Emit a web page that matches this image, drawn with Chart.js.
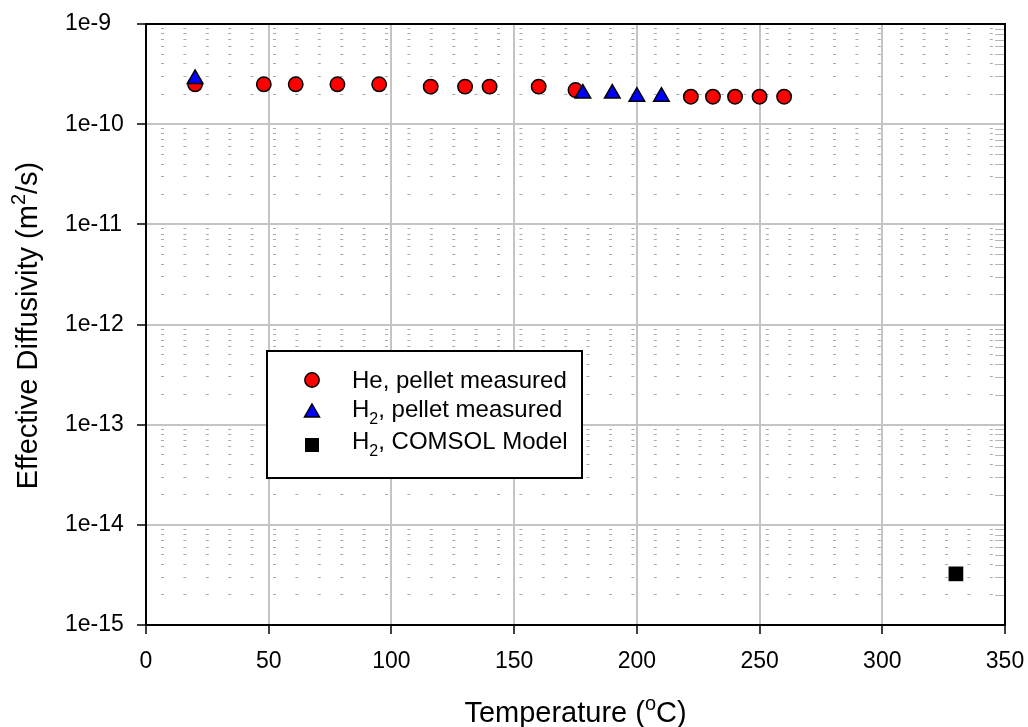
<!DOCTYPE html>
<html><head><meta charset="utf-8">
<script src="https://cdn.jsdelivr.net/npm/chart.js@4/dist/chart.umd.min.js"></script>
<style>html,body{margin:0;padding:0;background:#fff}canvas{display:block}</style>
</head><body>
<canvas id="c" width="1028" height="727"></canvas>
<script>
// ---- data ----
const heTemp = [20, 48, 61, 78, 95, 116, 130, 140, 160, 175, 222, 231, 240, 250, 260];
const heDiff = [2.5e-10, 2.5e-10, 2.5e-10, 2.5e-10, 2.5e-10, 2.37e-10, 2.37e-10, 2.37e-10, 2.37e-10, 2.19e-10, 1.88e-10, 1.88e-10, 1.88e-10, 1.88e-10, 1.88e-10];
const h2Temp = [20, 178, 190, 200, 210];
const h2Diff = [2.83e-10, 2.02e-10, 2.02e-10, 1.88e-10, 1.88e-10];
const comsolTemp = [330];
const comsolDiff = [3.24e-15];
const yDecades = [1e-15, 1e-14, 1e-13, 1e-12, 1e-11, 1e-10, 1e-9];
const yTickLabels = ['1e-15', '1e-14', '1e-13', '1e-12', '1e-11', '1e-10', '1e-9'];
const xTicks = [0, 50, 100, 150, 200, 250, 300, 350];
const minorMult = [2, 3, 4, 5, 6, 7, 8, 9];
const legendLabels = [
  [{t: 'He, pellet measured'}],
  [{t: 'H'}, {t: '2', sub: true}, {t: ', pellet measured'}],
  [{t: 'H'}, {t: '2', sub: true}, {t: ', COMSOL Model'}]
];

const FONT = "'Liberation Sans', Arial, sans-serif";
const minorValues = [];
yDecades.slice(0, -1).forEach(d => minorMult.forEach(m => minorValues.push(d * m)));

const toPts = (xs, ys) => xs.map((x, i) => ({x: x, y: ys[i]}));

function drawRich(ctx, parts, x, y, size, align) {
  const subSize = Math.round(size * 0.68);
  let w = 0;
  parts.forEach(p => {
    ctx.font = (p.sub || p.sup ? subSize : size) + 'px ' + FONT;
    p.w = ctx.measureText(p.t).width; w += p.w;
  });
  let cx = align === 'center' ? x - w / 2 : x;
  parts.forEach(p => {
    ctx.font = (p.sub || p.sup ? subSize : size) + 'px ' + FONT;
    const dy = p.sub ? size * 0.3 : (p.sup ? -size * 0.4 : 0);
    ctx.fillText(p.t, cx, y + dy);
    cx += p.w;
  });
}

const framePlugin = {
  id: 'frame',
  afterDraw(chart) {
    const {ctx, chartArea: a, scales} = chart;
    ctx.save();
    // right edge inward minor ticks
    ctx.strokeStyle = '#b8b8b8'; ctx.lineWidth = 1;
    minorValues.forEach(v => {
      const py = Math.round(scales.y.getPixelForValue(v)) + 0.5;
      ctx.beginPath(); ctx.moveTo(a.right - 10, py); ctx.lineTo(a.right, py); ctx.stroke();
    });
    // top and right border
    ctx.strokeStyle = '#000'; ctx.lineWidth = 2;
    ctx.beginPath(); ctx.moveTo(a.left, a.top); ctx.lineTo(a.right, a.top); ctx.lineTo(a.right, a.bottom); ctx.stroke();

    // legend
    ctx.fillStyle = '#fff'; ctx.fillRect(267, 351, 315, 127);
    ctx.strokeStyle = '#000'; ctx.lineWidth = 2; ctx.strokeRect(267, 351, 315, 127);
    ctx.lineWidth = 1.5;
    ctx.beginPath(); ctx.arc(312, 380, 7.2, 0, Math.PI * 2);
    ctx.fillStyle = '#ff0000'; ctx.fill(); ctx.stroke();
    ctx.beginPath(); ctx.moveTo(312, 404); ctx.lineTo(319.5, 417); ctx.lineTo(304.5, 417); ctx.closePath();
    ctx.fillStyle = '#0000ff'; ctx.fill(); ctx.stroke();
    ctx.fillStyle = '#000'; ctx.fillRect(305, 438, 14, 14);
    ctx.textBaseline = 'alphabetic'; ctx.textAlign = 'left'; ctx.fillStyle = '#000';
    const baselines = [388, 417, 449];
    legendLabels.forEach((parts, i) => drawRich(ctx, parts, 352, baselines[i], 24, 'left'));

    // axis titles
    drawRich(ctx, [{t: 'Temperature ('}, {t: 'o', sup: true}, {t: 'C)'}], (a.left + a.right) / 2, 722, 29, 'center');
    ctx.translate(37, (a.top + a.bottom) / 2 + 1);
    ctx.rotate(-Math.PI / 2);
    drawRich(ctx, [{t: 'Effective Diffusivity (m'}, {t: '2', sup: true}, {t: '/s)'}], 0, 0, 29, 'center');
    ctx.restore();
  }
};

new Chart(document.getElementById('c'), {
  type: 'scatter',
  data: {
    datasets: [
      {label: 'He, pellet measured', data: toPts(heTemp, heDiff), pointStyle: 'circle', pointRadius: 7.2,
       backgroundColor: '#ff0000', borderColor: '#000', borderWidth: 1.5, order: 3, yAxisID: 'y'},
      {label: 'H2, pellet measured', data: toPts(h2Temp, h2Diff), pointStyle: 'triangle', pointRadius: 9,
       backgroundColor: '#0000ff', borderColor: '#000', borderWidth: 1.5, order: 2, yAxisID: 'y'},
      {label: 'H2, COMSOL Model', data: toPts(comsolTemp, comsolDiff), pointStyle: 'rect', pointRadius: 10.4,
       backgroundColor: '#000', borderColor: '#000', borderWidth: 0, order: 1, yAxisID: 'y'}
    ]
  },
  options: {
    responsive: false, animation: false, devicePixelRatio: 1,
    layout: {padding: {left: 65, right: 23, top: 24, bottom: 0}},
    plugins: {legend: {display: false}, tooltip: {enabled: false}},
    scales: {
      x: {
        type: 'linear', position: 'bottom', min: 0, max: 350,
        afterBuildTicks: s => { s.ticks = xTicks.map(v => ({value: v})); },
        afterFit: s => { s.height = 102; s.paddingLeft = 0; s.paddingRight = 0; },
        ticks: {font: {family: FONT, size: 23}, color: '#000', padding: 14, maxRotation: 0},
        grid: {color: '#c4c4c4', lineWidth: 2, tickColor: '#000', tickLength: 9, tickWidth: 1.5},
        border: {color: '#000', width: 2}
      },
      y: {
        type: 'logarithmic', position: 'left', min: 1e-15, max: 1e-9,
        afterBuildTicks: s => { s.ticks = yDecades.map(v => ({value: v})); },
        afterFit: s => { s.width = 81; s.paddingTop = 0; s.paddingBottom = 0; },
        ticks: {font: {family: FONT, size: 23}, color: '#000', padding: 8, crossAlign: 'far',
          callback: (v, i) => yTickLabels[i]},
        grid: {color: '#c4c4c4', lineWidth: 2, tickColor: '#000', tickLength: 9, tickWidth: 1.5},
        border: {color: '#000', width: 2}
      },
      yMinor: {
        type: 'logarithmic', position: 'right', min: 1e-15, max: 1e-9,
        afterBuildTicks: s => { s.ticks = minorValues.map(v => ({value: v})); },
        afterFit: s => { s.width = 0; s.paddingTop = 0; s.paddingBottom = 0; },
        ticks: {display: false},
        grid: {color: '#aaaaaa', lineWidth: 1, drawTicks: false},
        border: {display: false, dash: [3, 19.4], dashOffset: 7.4}
      }
    }
  },
  plugins: [framePlugin]
});
</script>
</body></html>
